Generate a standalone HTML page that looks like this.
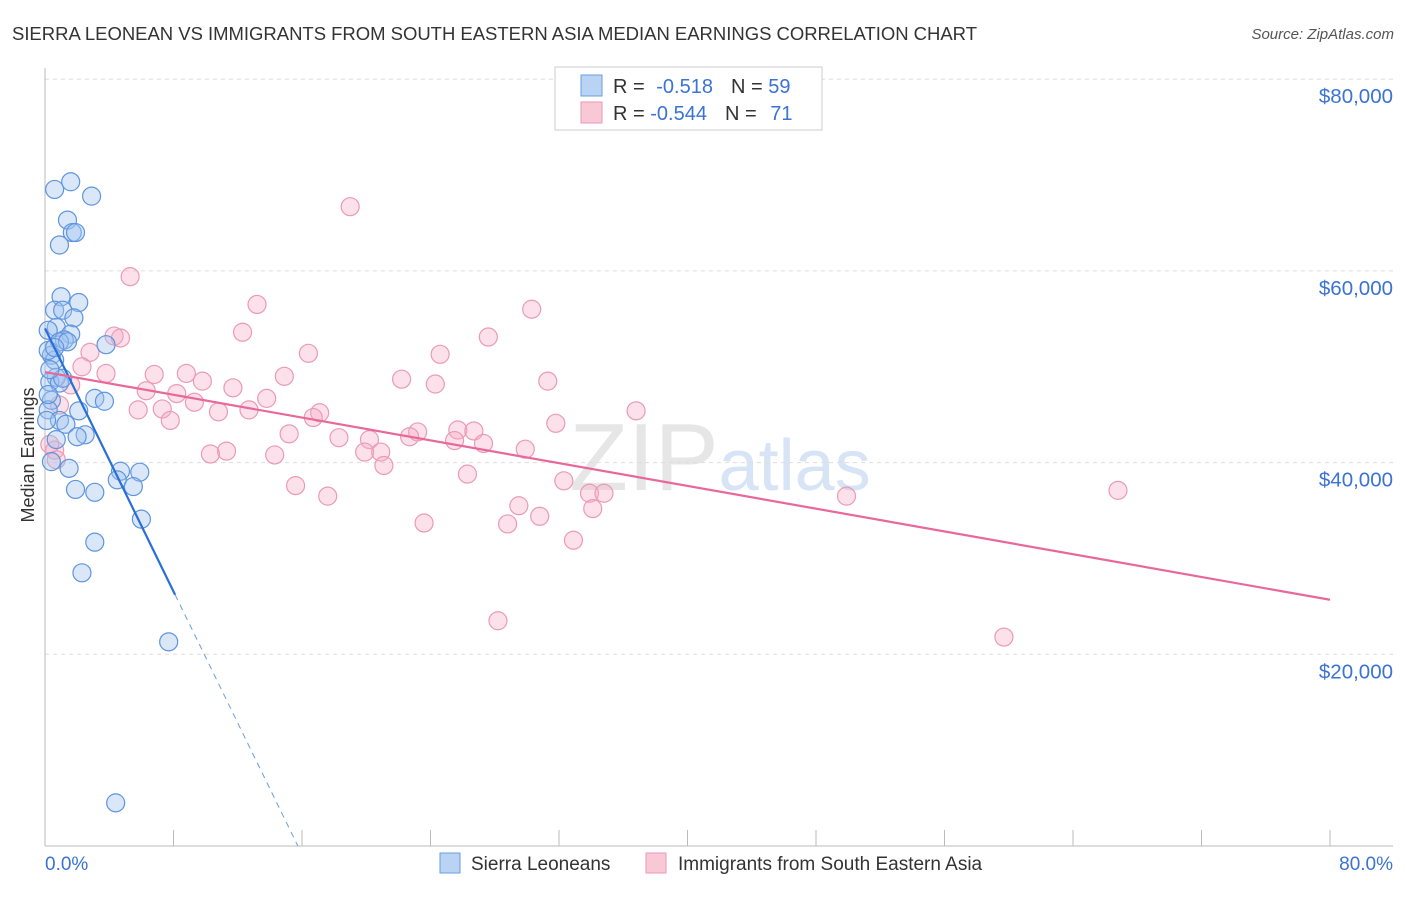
<!DOCTYPE html>
<html><head><meta charset="utf-8"><style>
body{margin:0;background:#fff;font-family:"Liberation Sans",sans-serif}
svg text{font-family:"Liberation Sans",sans-serif}
</style></head><body>
<svg id="chart" width="1406" height="892">
<text x="12" y="40" font-size="18.5" fill="#333" textLength="965">SIERRA LEONEAN VS IMMIGRANTS FROM SOUTH EASTERN ASIA MEDIAN EARNINGS CORRELATION CHART</text>
<text x="1394" y="39" font-size="15" fill="#555" text-anchor="end" font-style="italic">Source: ZipAtlas.com</text>
<text x="720" y="490" font-size="96" fill="#e6e6e6" text-anchor="middle" font-family="Liberation Serif">ZIP<tspan fill="#d6e4f5" font-family="Liberation Sans" font-size="72">atlas</tspan></text>
<g id="grid"></g><g id="axes"></g><g id="pink"></g><g id="blue"></g><g id="lines"></g>
<text x="34" y="455" font-size="18" fill="#333" text-anchor="middle" transform="rotate(-90 34 455)">Median Earnings</text>
<text x="45" y="870" font-size="19" fill="#3b73d4">0.0%</text>
<text x="1393" y="870" font-size="19" fill="#3b73d4" text-anchor="end">80.0%</text>
<g>
<rect x="555" y="67" width="267" height="63" fill="#fff" stroke="#ccc"/>
<rect x="581" y="75" width="21" height="21" fill="#b9d3f5" stroke="#6a9ee0"/>
<rect x="581" y="102" width="21" height="21" fill="#f9c8d7" stroke="#e99ab3"/>
<text x="613" y="93" font-size="20" fill="#333">R = <tspan fill="#3b73d4" dx="6">-0.518</tspan><tspan dx="18">N = </tspan><tspan fill="#3b73d4">59</tspan></text>
<text x="613" y="120" font-size="20" fill="#333">R = <tspan fill="#3b73d4">-0.544</tspan><tspan dx="18">N = </tspan><tspan fill="#3b73d4" dx="8">71</tspan></text>
</g>
<g>
<rect x="440" y="853" width="20" height="20" fill="#b9d3f5" stroke="#6a9ee0"/>
<text x="471" y="870" font-size="19" fill="#333">Sierra Leoneans</text>
<rect x="646" y="853" width="20" height="20" fill="#f9c8d7" stroke="#e99ab3"/>
<text x="678" y="870" font-size="19" fill="#333">Immigrants from South Eastern Asia</text>
</g>
</svg>
<script>
const yTicks=[20000,40000,60000,80000];
const yTickLabels=["$20,000","$40,000","$60,000","$80,000"];
const xTicks=[8,16,24,32,40,48,56,64,72,80];
const blueX=[0.6,1.6,2.9,1.4,1.7,1.9,0.9,1.0,2.1,0.6,1.1,1.8,0.7,0.2,1.6,1.2,0.9,1.4,0.4,0.6,3.8,0.7,0.3,0.9,1.1,0.4,0.2,3.1,3.7,0.9,1.3,0.1,2.1,2.5,2.0,0.7,1.5,0.4,1.9,3.1,4.7,5.9,4.5,5.5,6.0,3.1,2.3,7.7,4.4,0.2,0.2,0.6,0.3];
const blueY=[68.5,69.3,67.8,65.3,64.0,64.0,62.7,57.3,56.7,55.9,55.9,55.1,54.1,53.8,53.4,52.8,52.6,52.6,51.2,50.7,52.3,48.9,48.4,48.3,48.8,46.5,45.5,46.7,46.4,44.4,44.0,44.4,45.4,42.9,42.7,42.4,39.4,40.1,37.2,36.9,39.1,39.0,38.2,37.5,34.1,31.7,28.5,21.3,4.5,47.1,51.7,52.0,49.7];
const pinkX=[19.0,5.3,13.2,30.3,12.3,4.3,4.7,27.6,2.8,16.4,24.6,2.3,3.8,6.8,8.8,22.2,31.3,9.8,24.3,1.6,14.9,11.7,6.3,8.2,13.8,9.3,5.8,7.3,10.8,12.7,17.1,36.8,7.8,16.7,31.8,15.2,18.3,23.2,22.7,25.7,26.7,20.2,25.5,27.3,11.3,10.3,19.9,20.9,29.9,14.3,21.1,26.3,32.3,15.6,33.9,34.8,17.6,29.5,49.9,66.8,23.6,28.8,30.8,34.1,32.9,28.2,59.7,0.6,0.7,0.9,0.3];
const pinkY=[66.7,59.4,56.5,56.0,53.6,53.2,53.0,53.1,51.5,51.4,51.3,50.0,49.3,49.2,49.3,48.7,48.5,48.5,48.2,48.1,49.0,47.8,47.5,47.2,46.7,46.3,45.5,45.6,45.3,45.5,45.2,45.4,44.4,44.7,44.1,43.0,42.6,43.2,42.7,43.4,43.3,42.4,42.3,42.0,41.2,40.9,41.1,41.1,41.4,40.8,39.7,38.8,38.1,37.6,36.8,36.8,36.5,35.5,36.5,37.1,33.7,33.6,34.4,35.2,31.9,23.5,21.8,41.3,40.3,46.0,41.9];
const blueTrend=[54.0,-3.43];
const pinkTrend=[49.45,-0.297];
const NS="http://www.w3.org/2000/svg";
const X=v=>45+v*16.0625, Y=v=>846-v/20000*191.7;
function mk(p,t,a){const e=document.createElementNS(NS,t);for(const k in a)e.setAttribute(k,a[k]);document.getElementById(p).appendChild(e);return e;}
yTicks.forEach((t,i)=>{
 const l=mk('grid','line',{x1:45,x2:1393,y1:Y(t),y2:Y(t),stroke:'#ddd','stroke-dasharray':'4 4'});
 
 
 const tx=mk('grid','text',{x:1393,y:Y(t)+24,'font-size':20.5,fill:'#3b73d4','text-anchor':'end'});
 tx.textContent=yTickLabels[i];
 
 
});
const ax=mk('axes','line',{x1:45,x2:45,y1:68,y2:846,stroke:'#bbb'});


const bx=mk('axes','line',{x1:45,x2:1393,y1:846,y2:846,stroke:'#bbb'});


xTicks.forEach(t=>{const l=mk('axes','line',{x1:X(t),x2:X(t),y1:830,y2:846,stroke:'#bbb'});
 
 });
pinkX.forEach((x,i)=>{const c=mk('pink','circle',{cx:X(x),cy:Y(pinkY[i]*1000),r:9,fill:'rgba(246,170,195,0.35)',stroke:'#eb9ab5','stroke-width':1.2});
 
 });
blueX.forEach((x,i)=>{const c=mk('blue','circle',{cx:X(x),cy:Y(blueY[i]*1000),r:9,fill:'rgba(160,195,240,0.4)',stroke:'#5e95de','stroke-width':1.2});
 
 });
const bEnd=8.1, bZero=-blueTrend[0]/blueTrend[1];
const b1=mk('lines','line',{x1:X(0),y1:Y(blueTrend[0]*1000),x2:X(bEnd),y2:Y((blueTrend[0]+blueTrend[1]*bEnd)*1000),stroke:'#2a6fd6','stroke-width':2.2});


const b2=mk('lines','line',{x1:X(bEnd),y1:Y((blueTrend[0]+blueTrend[1]*bEnd)*1000),x2:X(bZero),y2:Y(0),stroke:'#6a9ee0','stroke-width':1,'stroke-dasharray':'6 5'});


const p1=mk('lines','line',{x1:X(0),y1:Y(pinkTrend[0]*1000),x2:X(80),y2:Y((pinkTrend[0]+pinkTrend[1]*80)*1000),stroke:'#e8689a','stroke-width':2.2});


</script>
</body></html>
